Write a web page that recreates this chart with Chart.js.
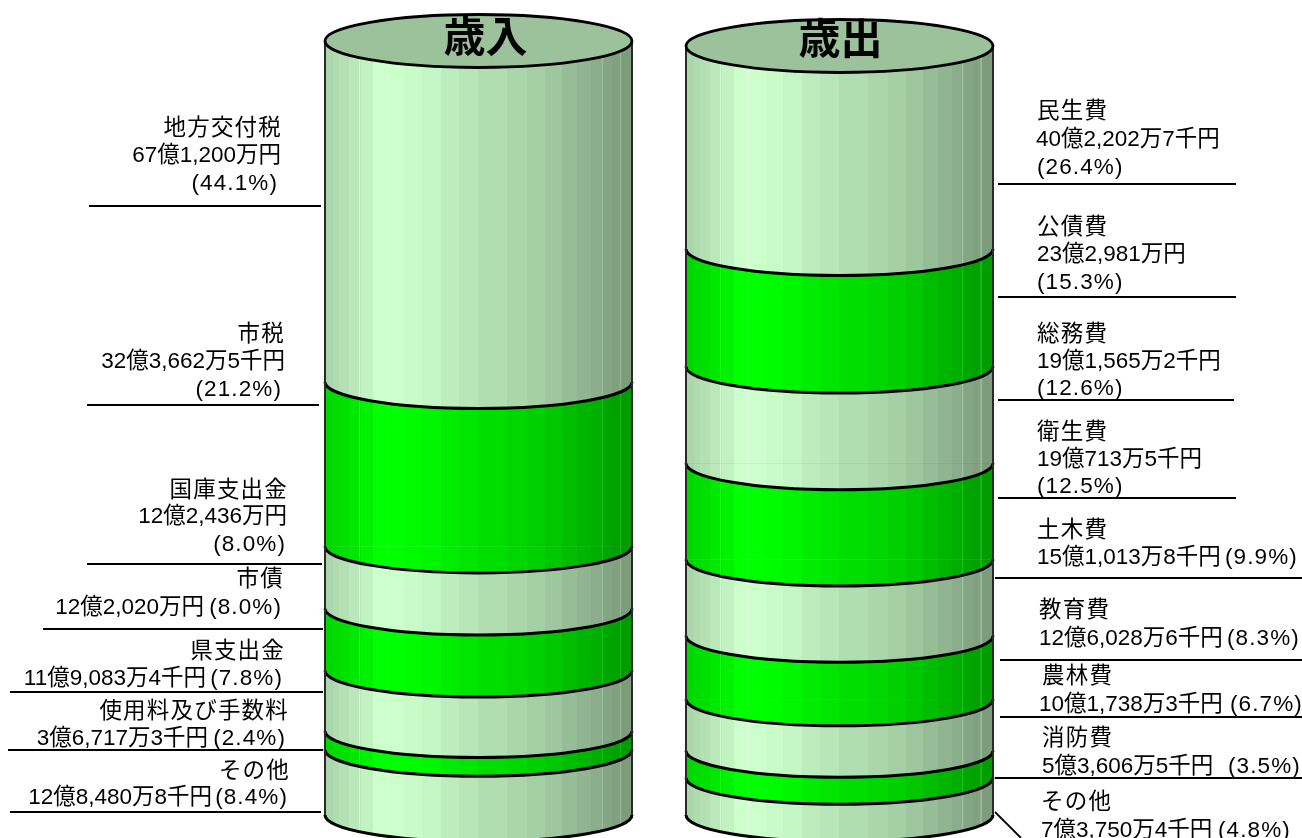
<!DOCTYPE html>
<html lang="ja">
<head>
<meta charset="utf-8">
<title>歳入・歳出</title>
<script src="https://cdn.jsdelivr.net/npm/chart.js@4/dist/chart.umd.min.js"></script>
<style>html,body{margin:0;padding:0;background:#fff}canvas{display:block}</style>
</head>
<body>
<canvas id="c" width="1302" height="838"></canvas>
<script>
// ---- data (amounts in 千円) ----
const categories = ['歳入', '歳出'];
const incomeNames = ['地方交付税', '市税', '国庫支出金', '市債', '県支出金', '使用料及び手数料', 'その他'];
const incomeValues = [6712000, 3236625, 1224360, 1220200, 1190834, 367173, 1284808];
const incomeAmountText = ['67億1,200万円', '32億3,662万5千円', '12億2,436万円', '12億2,020万円', '11億9,083万4千円', '3億6,717万3千円', '12億8,480万8千円'];
const incomePctText = ['(44.1%)', '(21.2%)', '(8.0%)', '(8.0%)', '(7.8%)', '(2.4%)', '(8.4%)'];
const expenseNames = ['民生費', '公債費', '総務費', '衛生費', '土木費', '教育費', '農林費', '消防費', 'その他'];
const expenseValues = [4022027, 2329810, 1915652, 1907135, 1510138, 1260286, 1017383, 536065, 737504];
const expenseAmountText = ['40億2,202万7千円', '23億2,981万円', '19億1,565万2千円', '19億713万5千円', '15億1,013万8千円', '12億6,028万6千円', '10億1,738万3千円', '5億3,606万5千円', '7億3,750万4千円'];
const expensePctText = ['(26.4%)', '(15.3%)', '(12.6%)', '(12.5%)', '(9.9%)', '(8.3%)', '(6.7%)', '(3.5%)', '(4.8%)'];
const axisTotal = 15236000;

// ---- style / layout ----
const LIGHT = [204, 255, 204], GREEN = [0, 255, 0];
const BAR_W = 307, RY = 26.5;
const RIGHT_TOP_INSET = 5;
// stripe edges in px from the cylinder's left side, with brightness
const stripes = [[0,.84],[8,.86],[14,.88],[24,.91],[36,.95],[48,1],[80,.985],[97,.96],[116,.925],[134,.9],[153,.87],[182,.84],[202,.81],[220,.78],[237,.74],[252,.71],[266,.68],[278,.65],[287,.63],[297,.61]];
const hairlines = [35, 63, 79, 202, 252, 277, 295];
function shade(base, f) { return 'rgb(' + base.map(c => Math.round(c * f)).join(',') + ')'; }
function sideGradient(ctx2d, x0, base) {
  const g = ctx2d.createLinearGradient(x0, 0, x0 + BAR_W, 0);
  const stops = [];
  stripes.forEach((s, i) => {
    const end = i + 1 < stripes.length ? stripes[i + 1][0] : BAR_W;
    stops.push([s[0], end, s[1]]);
  });
  const lift = (f) => 'rgb(' + base.map(c => Math.min(255, Math.round(c * f + 20))).join(',') + ')';
  stops.forEach(([a, b, f]) => {
    g.addColorStop(a / BAR_W, shade(base, f));
    const hl = hairlines.find(h => h > a && h < b);
    if (hl !== undefined) {
      g.addColorStop((hl - .5) / BAR_W, shade(base, f));
      g.addColorStop((hl - .5) / BAR_W, lift(f));
      g.addColorStop((hl + .5) / BAR_W, lift(f));
      g.addColorStop((hl + .5) / BAR_W, shade(base, f));
    }
    g.addColorStop(b / BAR_W, shade(base, f));
  });
  return g;
}
function barFill(ctx, index) {
  const chart = ctx.chart, base = index % 2 === 0 ? LIGHT : GREEN;
  if (!chart.chartArea || ctx.dataIndex === undefined) return shade(base, .85);
  const cx = chart.scales.x.getPixelForValue(ctx.dataIndex);
  return sideGradient(chart.ctx, cx - BAR_W / 2, base);
}
function makeDatasets(values, slot, axisId) {
  return values.map((v, i) => ({
    label: (slot === 0 ? incomeNames : expenseNames)[i],
    data: slot === 0 ? [v, null] : [null, v],
    yAxisID: axisId,
    borderWidth: 0,
    backgroundColor: ctx => barFill(ctx, i)
  }));
}

// label placement: name, amount, pct [x, y], leader [x1, y, x2]
const incomeLayout = [
  {n:[282,127], a:[281,154], p:[278,182], l:[89,206,321]},
  {n:[285,333], a:[285,360], p:[282,388], l:[87,405,319]},
  {n:[288,489], a:[287,515], p:[286,543], l:[87,564,322]},
  {n:[284,578], a:[204,606], p:[282,606], l:[43,629,323]},
  {n:[285,650], a:[206,677], p:[283,677], l:[10,692,323]},
  {n:[289,710], a:[208,737], p:[286,737], l:[8,750,323]},
  {n:[290,770], a:[212,796], p:[288,796], l:[10,812,321]}
];
const expenseLayout = [
  {n:[1037,110], a:[1036,138], p:[1037,166], l:[998,184,1236]},
  {n:[1037,226], a:[1037,253], p:[1037,281], l:[998,297,1236]},
  {n:[1037,333], a:[1037,360], p:[1037,387], l:[998,400,1234]},
  {n:[1037,431], a:[1037,458], p:[1037,485], l:[998,498,1236]},
  {n:[1037,529], a:[1037,556], p:[1225,556], l:[995,578,1302]},
  {n:[1039,609], a:[1039,637], p:[1227,637], l:[1000,660,1302]},
  {n:[1042,675], a:[1039,703], p:[1230,703], l:[1000,717,1302]},
  {n:[1042,737], a:[1042,765], p:[1228,765], l:[995,778,1302]},
  {n:[1041,801], a:[1041,829], p:[1218,829], l:null}
];
const TEXT_FONT = '22.5px "Liberation Sans", "Noto Sans CJK JP", sans-serif';
const TEXT_DY = 1.5;

const cylinderPlugin = {
  id: 'cylinder',
  afterDatasetDraw(chart, args) {
    const ctx = chart.ctx;
    args.meta.data.forEach(el => {
      if (!el || el.skip || chart.data.datasets[args.index].data[el.$context ? el.$context.dataIndex : 0] == null) return;
      const yb = Math.max(el.y, el.base), rx = BAR_W / 2;
      ctx.save();
      ctx.beginPath();
      ctx.ellipse(el.x, yb, rx, RY, 0, 0, Math.PI);
      ctx.closePath();
      ctx.fillStyle = el.options.backgroundColor;
      ctx.fill();
      ctx.beginPath();
      ctx.ellipse(el.x, yb, rx, RY, 0, 0, Math.PI);
      ctx.lineWidth = 3;
      ctx.strokeStyle = '#000';
      ctx.stroke();
      ctx.restore();
    });
  },
  afterDatasetsDraw(chart) {
    const ctx = chart.ctx, x = chart.scales.x;
    [['y', 0], ['y2', 1]].forEach(([id, i]) => {
      const s = chart.scales[id], cx = x.getPixelForValue(i), rx = BAR_W / 2;
      const top = s.getPixelForValue(0), bot = s.getPixelForValue(axisTotal);
      ctx.save();
      ctx.strokeStyle = '#2a2a2a';
      ctx.lineWidth = 2;
      [cx - rx, cx + rx].forEach(px => {
        ctx.beginPath(); ctx.moveTo(px, top); ctx.lineTo(px, bot); ctx.stroke();
      });
      ctx.beginPath();
      ctx.ellipse(cx, top, rx, RY, 0, 0, Math.PI * 2);
      ctx.fillStyle = shade(LIGHT, .76);
      ctx.fill();
      ctx.lineWidth = 2.8;
      ctx.strokeStyle = '#000';
      ctx.stroke();
      ctx.restore();
    });
  },
  afterDraw(chart) {
    const ctx = chart.ctx, x = chart.scales.x;
    ctx.save();
    ctx.fillStyle = '#000';
    ctx.textBaseline = 'middle';
    // titles
    ctx.font = 'bold 42px "Noto Sans CJK JP", sans-serif';
    ctx.textAlign = 'center';
    ctx.fillText(categories[0], x.getPixelForValue(0) + 7, 36);
    ctx.fillText(categories[1], x.getPixelForValue(1) + 1, 38);
    // labels
    ctx.font = TEXT_FONT;
    const put = (names, amts, pcts, layout, align) => {
      ctx.textAlign = align;
      names.forEach((nm, i) => {
        const L = layout[i];
        ctx.letterSpacing = '1.2px';
        ctx.fillText(nm, L.n[0], L.n[1] + TEXT_DY);
        ctx.letterSpacing = '0px';
        ctx.fillText(amts[i], L.a[0], L.a[1] + TEXT_DY);
        ctx.letterSpacing = '1.1px';
        ctx.fillText(pcts[i], L.p[0], L.p[1] + TEXT_DY);
        ctx.letterSpacing = '0px';
        if (L.l) {
          ctx.beginPath();
          ctx.moveTo(L.l[0], L.l[1]); ctx.lineTo(L.l[2], L.l[1]);
          ctx.lineWidth = 2; ctx.strokeStyle = '#000'; ctx.stroke();
        }
      });
    };
    put(incomeNames, incomeAmountText, incomePctText, incomeLayout, 'right');
    put(expenseNames, expenseAmountText, expensePctText, expenseLayout, 'left');
    // slanted leader of the last expense item
    ctx.beginPath(); ctx.moveTo(995, 812); ctx.lineTo(1021, 838);
    ctx.lineWidth = 1.8; ctx.strokeStyle = '#000'; ctx.stroke();
    ctx.restore();
  }
};

new Chart(document.getElementById('c'), {
  type: 'bar',
  data: {
    labels: categories,
    datasets: makeDatasets(incomeValues, 0, 'y').concat(makeDatasets(expenseValues, 1, 'y2'))
  },
  plugins: [cylinderPlugin],
  options: {
    responsive: false,
    devicePixelRatio: 1,
    animation: false,
    barThickness: BAR_W,
    layout: { padding: { left: 298, right: 282, top: 41, bottom: 23 } },
    plugins: { legend: { display: false }, tooltip: { enabled: false }, title: { display: false } },
    scales: {
      x: { display: false, stacked: true, offset: true, grid: { display: false } },
      y: { display: false, stacked: true, reverse: true, min: 0, max: axisTotal },
      y2: { display: false, stacked: true, reverse: true, min: -axisTotal * RIGHT_TOP_INSET / 769, max: axisTotal }
    }
  }
});
</script>
</body>
</html>
